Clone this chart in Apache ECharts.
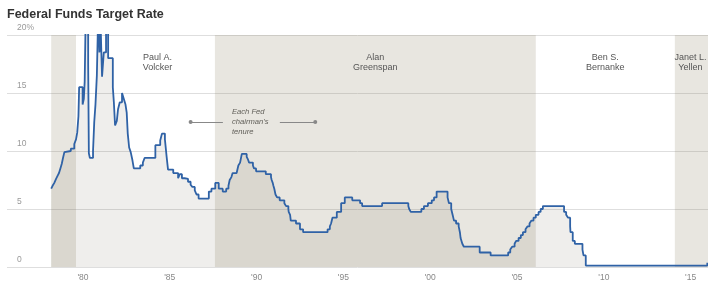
<!DOCTYPE html>
<html>
<head>
<meta charset="utf-8">
<script src="https://cdn.jsdelivr.net/npm/echarts@6/dist/echarts.min.js"></script>
<style>
html,body{margin:0;padding:0;background:#fff;}
#chart{width:708px;height:284px;}
</style>
</head>
<body>
<div id="chart"></div>
<script>
// Rate changes: date (decimal year) and rate (%) held until next change
const dates = [
  1978.17,1978.25,1978.35,1978.45,1978.55,1978.62,1978.70,1978.78,1978.85,1978.93,
  1979.00,1979.30,1979.50,1979.60,1979.67,1979.74,1979.78,1979.98,1980.05,1980.10,
  1980.16,1980.30,1980.34,1980.40,1980.58,1980.65,1980.72,1980.80,1980.88,1980.95,
  1981.00,1981.05,1981.10,1981.20,1981.33,1981.45,1981.72,1981.78,1981.85,1981.95,
  1982.02,1982.12,1982.25,1982.35,1982.45,1982.52,1982.58,1982.66,1982.75,1982.85,
  1982.93,1983.30,1983.45,1983.55,1984.17,1984.45,1984.55,1984.72,1984.76,1984.82,
  1984.90,1985.20,1985.48,1985.58,1985.70,1985.86,1986.05,1986.20,1986.30,1986.44,
  1986.54,1986.66,1987.25,1987.40,1987.62,1987.82,1988.05,1988.25,1988.38,1988.45,
  1988.55,1988.62,1988.85,1988.95,1989.05,1989.15,1989.43,1989.51,1989.57,1989.79,
  1989.85,1989.97,1990.53,1990.83,1990.87,1990.93,1990.97,1991.02,1991.09,1991.18,
  1991.33,1991.60,1991.70,1991.83,1991.85,1991.93,1991.97,1992.27,1992.50,1992.68,
  1994.09,1994.22,1994.29,1994.37,1994.62,1994.87,1995.08,1995.51,1995.96,1996.08,
  1997.23,1998.74,1998.79,1998.88,1999.49,1999.64,1999.87,2000.09,2000.22,2000.37,
  2001.00,2001.08,2001.21,2001.29,2001.37,2001.49,2001.64,2001.71,2001.75,2001.85,
  2001.94,2002.85,2003.48,2004.49,2004.61,2004.72,2004.86,2004.95,2005.09,2005.22,
  2005.34,2005.49,2005.60,2005.72,2005.83,2005.95,2006.08,2006.24,2006.36,2006.49,
  2007.71,2007.83,2007.94,2008.06,2008.08,2008.21,2008.33,2008.77,2008.83,2008.96,
  2015.96,2016.00
];
const rates = [
  6.75,7.0,7.25,7.6,7.9,8.1,8.5,8.9,9.4,9.9,
  10.0,10.2,10.6,11.0,11.6,13.0,15.5,14.0,14.5,16.0,
  22.0,17.5,9.8,9.4,10.0,12.5,14.0,16.5,22.0,18.5,
  22.0,19.0,16.4,18.5,22.0,18.0,15.5,14.2,12.2,12.6,
  13.6,14.2,15.0,14.5,14.0,13.3,11.5,10.3,9.9,9.2,
  8.5,8.75,9.0,9.4,10.5,10.9,11.5,11.0,10.4,9.5,
  8.4,8.1,7.65,8.0,7.65,7.6,7.35,7.1,6.9,6.6,
  6.25,5.9,6.5,6.75,7.25,6.75,6.5,6.75,7.0,7.5,
  7.75,8.1,8.25,8.75,9.0,9.75,9.5,9.25,9.0,8.75,
  8.5,8.25,8.0,7.75,7.5,7.25,7.0,6.75,6.25,6.0,
  5.75,5.5,5.25,5.0,4.75,4.5,4.0,3.75,3.25,3.0,
  3.25,3.5,3.75,4.25,4.75,5.5,6.0,5.75,5.5,5.25,
  5.5,5.25,5.0,4.75,5.0,5.25,5.5,5.75,6.0,6.5,
  6.0,5.5,5.0,4.5,4.0,3.75,3.5,3.0,2.5,2.0,
  1.75,1.25,1.0,1.25,1.5,1.75,2.0,2.25,2.5,2.75,
  3.0,3.25,3.5,3.75,4.0,4.25,4.5,4.75,5.0,5.25,
  4.75,4.5,4.25,3.5,3.0,2.25,2.0,1.5,1.0,0.125,
  0.375,0.375
];

// Fed chair tenures
const chairLabels = ["", "Paul A.\nVolcker", "Alan\nGreenspan", "Ben S.\nBernanke", "Janet L.\nYellen"];
const chairStarts = [1978.17, 1979.60, 1987.60, 2006.08, 2014.09];
const chairEnds   = [1979.60, 1987.60, 2006.08, 2014.09, 2016.00];
const chairShaded = [true, false, true, false, true];

// Axis ticks
const xTickYears = [1980, 1985, 1990, 1995, 2000, 2005, 2010, 2015];
const xTickLabels = ["'80", "'85", "'90", "'95", "'00", "'05", "'10", "'15"];
const yTickValues = [0, 5, 10, 15, 20];
const yTickLabels = ["0", "5", "10", "15", "20%"];

const FONT = "Liberation Sans, Arial, sans-serif";
const seriesData = dates.map((d, i) => [d, rates[i]]);

const bandData = chairStarts.map((s, i) => [
  {
    name: chairLabels[i],
    xAxis: s,
    itemStyle: { color: chairShaded[i] ? 'rgba(140,130,100,0.2)' : 'rgba(255,255,255,0)' },
    label: {
      show: chairLabels[i] !== "",
      offset: i === 1 ? [12, 1] : (i === 4 ? [-1, 1] : [0, 1])
    }
  },
  { xAxis: chairEnds[i] }
]);

const chart = echarts.init(document.getElementById('chart'), null, { renderer: 'canvas' });
chart.setOption({
  animation: false,
  backgroundColor: '#ffffff',
  textStyle: { fontFamily: FONT },
  title: {
    text: 'Federal Funds Target Rate',
    left: 2, top: 3,
    textStyle: { fontFamily: FONT, fontSize: 12.5, fontWeight: 'bold', color: '#333' }
  },
  grid: { left: 7, right: 0, top: 35, bottom: 17, containLabel: false },
  xAxis: {
    type: 'value',
    min: 1975.625, max: 2016,
    axisLine: { show: false },
    axisTick: { show: false },
    splitLine: { show: false },
    axisLabel: {
      customValues: xTickYears,
      formatter: v => { const k = xTickYears.indexOf(Math.round(v)); return k >= 0 ? xTickLabels[k] : ''; },
      color: '#888', fontSize: 8.5, margin: 6, fontFamily: FONT
    }
  },
  yAxis: {
    type: 'value',
    min: 0, max: 20, interval: 5,
    axisLine: { show: false },
    axisTick: { show: false },
    splitLine: { show: true, lineStyle: { color: '#dedede', width: 1 } },
    axisLabel: {
      inside: true,
      margin: 10,
      align: 'left',
      verticalAlign: 'bottom',
      padding: [0, 0, 3, 0],
      color: '#999', fontSize: 8.5, fontFamily: FONT,
      formatter: v => { const k = yTickValues.indexOf(v); return k >= 0 ? yTickLabels[k] : ''; }
    }
  },
  series: [
    {
      name: 'bands',
      type: 'line',
      data: seriesData,
      z: 1,
      silent: true,
      showSymbol: false,
      lineStyle: { opacity: 0 },
      markArea: {
        silent: true,
        label: {
          show: true,
          position: 'insideTop',
          distance: 17,
          color: '#555',
          fontSize: 9,
          lineHeight: 10,
          fontFamily: FONT,
          align: 'center'
        },
        data: bandData
      }
    },
    {
      name: 'rate',
      type: 'line',
      step: 'end',
      data: seriesData,
      z: 3,
      showSymbol: false,
      clip: true,
      lineStyle: { color: '#2f62a6', width: 1.8 },
      areaStyle: { color: 'rgba(70,60,30,0.12)', origin: 'start' },
      markLine: {
        silent: true,
        animation: false,
        label: { show: false },
        lineStyle: { color: '#888', width: 1, type: 'solid' },
        symbolSize: 4,
        data: [
          [{ coord: [1986.2, 12.5], symbol: 'circle' }, { coord: [1988.06, 12.5], symbol: 'none' }],
          [{ coord: [1991.34, 12.5], symbol: 'none' }, { coord: [1993.38, 12.5], symbol: 'circle' }]
        ]
      }
    }
  ],
  graphic: [
    {
      type: 'text',
      left: 232, top: 107,
      style: {
        text: "Each Fed\nchairman's\ntenure",
        font: 'italic 7.6px ' + FONT,
        fill: '#555',
        lineHeight: 10
      }
    }
  ]
});
</script>
</body>
</html>
